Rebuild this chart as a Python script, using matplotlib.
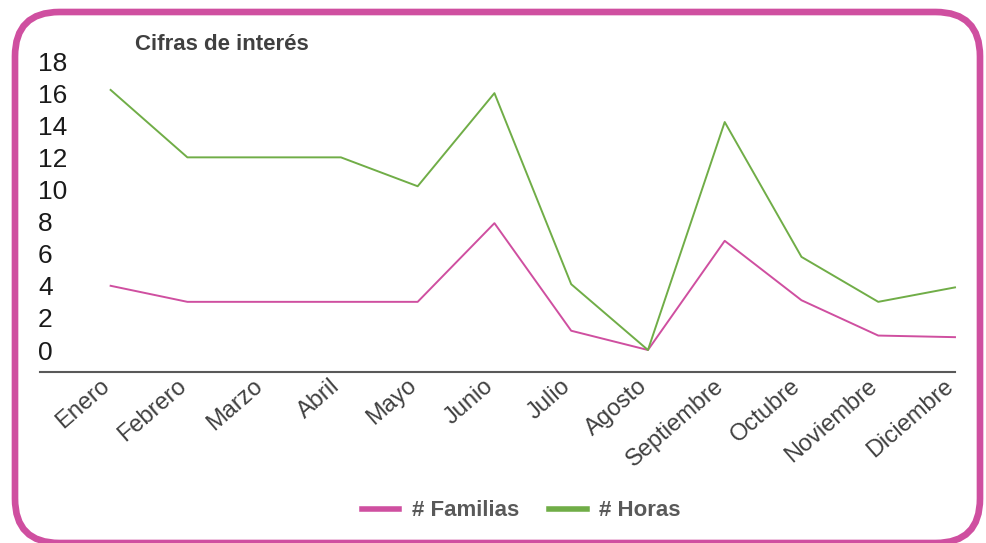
import matplotlib.pyplot as plt
from matplotlib.patches import FancyBboxPatch
from matplotlib.lines import Line2D
from matplotlib.transforms import ScaledTranslation

plt.rcParams['font.family'] = ['Liberation Sans', 'DejaVu Sans']

meses = ["Enero", "Febrero", "Marzo", "Abril", "Mayo", "Junio", "Julio",
         "Agosto", "Septiembre", "Octubre", "Noviembre", "Diciembre"]
familias = [4, 3, 3, 3, 3, 7.9, 1.2, 0, 6.8, 3.1, 0.9, 0.8]
horas = [16.2, 12, 12, 12, 10.2, 16, 4.1, 0, 14.2, 5.8, 3, 3.9]
yticks = [0, 2, 4, 6, 8, 10, 12, 14, 16, 18]

rosa = "#CF4FA0"
verde = "#70AD47"

W, H = 987, 543
fig = plt.figure(figsize=(W / 100, H / 100), dpi=100)

# rounded frame
frame = FancyBboxPatch((15 / W, 1 - 543 / H), (980 - 15) / W, (543 - 12) / H,
                       boxstyle="round,pad=0,rounding_size=0.045",
                       transform=fig.transFigure, fill=False,
                       edgecolor=rosa, linewidth=4.8, mutation_aspect=W / H)
fig.patches.append(frame)

ax = fig.add_axes([40 / W, 1 - 372 / H, (955 - 40) / W, (372 - 53) / H])
x = list(range(len(meses)))
ax.plot(x, familias, color=rosa, lw=1.4, clip_on=False)
ax.plot(x, horas, color=verde, lw=1.4, clip_on=False)

ax.set_xlim(-0.92, 10.98)
ax.set_ylim(-1.37, 18.5)
for s in ["top", "right", "left"]:
    ax.spines[s].set_visible(False)
ax.spines["bottom"].set_color("#595959")
ax.spines["bottom"].set_linewidth(1.5)

ax.set_yticks(yticks)
ax.set_yticklabels([str(v) for v in yticks], fontsize=19, color="#1a1a1a")
for lab in ax.get_yticklabels():
    lab.set_horizontalalignment("left")
ax.tick_params(axis="y", length=0, pad=1.5)

ax.set_xticks(x)
ax.set_xticklabels(meses, rotation=41, ha="right", va="center",
                   rotation_mode="anchor", fontsize=17, color="#404040")
ax.tick_params(axis="x", length=0, pad=8)
shift = ScaledTranslation(-4 / 100, 0, fig.dpi_scale_trans)
for lab in ax.get_xticklabels():
    lab.set_transform(lab.get_transform() + shift)

fig.text(135 / W, 1 - 45 / H, "Cifras de interés", fontsize=16,
         fontweight="bold", color="#404040", va="center", ha="left")

handles = [Line2D([], [], color=rosa, lw=4), Line2D([], [], color=verde, lw=4)]
fig.legend(handles, ["# Familias", "# Horas"], loc="center",
           bbox_to_anchor=(521 / W, 1 - 511 / H), ncol=2, frameon=False,
           prop={"weight": "bold", "size": 16}, labelcolor="#595959",
           handlelength=1.7, columnspacing=1.35, handletextpad=0.55)

fig.savefig("out.png", dpi=100)
